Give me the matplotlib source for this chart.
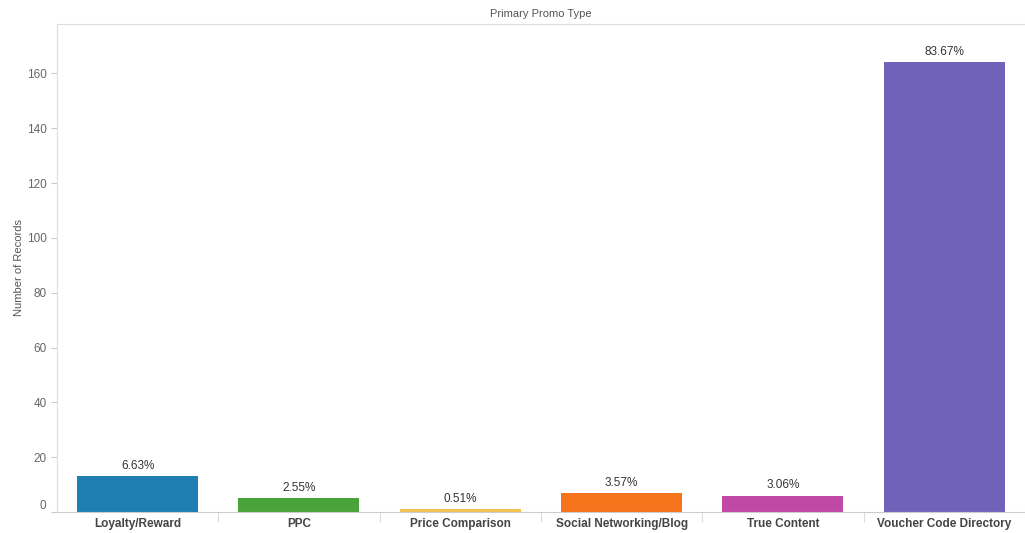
import matplotlib.pyplot as plt
import numpy as np

categories = ["Loyalty/Reward", "PPC", "Price Comparison", "Social Networking/Blog",
              "True Content", "Voucher Code Directory"]
records = [13, 5, 1, 7, 6, 164]
pct_labels = ["6.63%", "2.55%", "0.51%", "3.57%", "3.06%", "83.67%"]
colors = ["#1f7fb4", "#4aa23a", "#f2c14e", "#f5731b", "#c049a5", "#7062b8"]

plt.rcParams['font.family'] = ['Liberation Sans', 'DejaVu Sans']

fig = plt.figure(figsize=(10.25, 5.33), dpi=100)
ax = fig.add_axes([57 / 1025, 21 / 533, 968 / 1025, 488 / 533])

x = np.arange(len(categories))
ax.bar(x, records, width=0.75, color=colors)
for xi, v, lab in zip(x, records, pct_labels):
    ax.text(xi, v + 1.5, lab, ha="center", va="bottom", fontsize=8.5, color="#333333")

ax.set_xlim(-0.5, len(categories) - 0.5)
ax.set_ylim(0, 178)
ax.set_yticks(range(0, 161, 20))
ax.tick_params(axis="y", colors="#cccccc", labelcolor="#666666", labelsize=8.5, length=4, width=0.8)
# zero label sits a little above the baseline, as in the original
zero_lab = ax.get_yticklabels()[0]
zero_lab.set_va("bottom")

ax.set_xticks(x)
ax.set_xticklabels(categories, fontsize=8.5, fontweight="bold", color="#444444")
ax.tick_params(axis="x", length=0, pad=4)
ax.set_xticks(np.arange(0.5, len(categories) - 0.5), minor=True)
ax.tick_params(axis="x", which="minor", length=7, color="#dddddd", width=0.8)

for s in ["left", "top"]:
    ax.spines[s].set_color("#dddddd")
ax.spines["bottom"].set_color("#cccccc")
ax.spines["right"].set_visible(False)

ax.set_ylabel("Number of Records", fontsize=8, color="#555555")
ax.yaxis.set_label_coords(-0.034, 0.5)
ax.set_title("Primary Promo Type", fontsize=8, color="#555555", pad=5)

fig.savefig("out.png", dpi=100)
